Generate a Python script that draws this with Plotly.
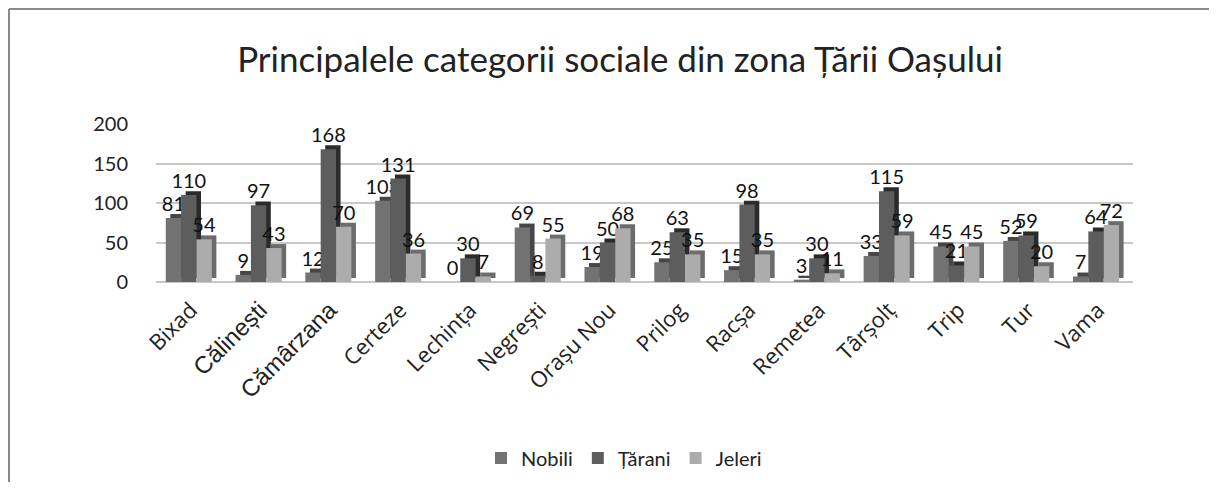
import plotly.graph_objects as go

categories = ["Bixad", "Călinești", "Cămârzana", "Certeze", "Lechința", "Negrești",
              "Orașu Nou", "Prilog", "Racșa", "Remetea", "Târșolț", "Trip", "Tur", "Vama"]
nobili = [81, 9, 12, 103, 0, 69, 19, 25, 15, 3, 33, 45, 52, 7]
tarani = [110, 97, 168, 131, 30, 8, 50, 63, 98, 30, 115, 21, 59, 64]
jeleri = [54, 43, 70, 36, 7, 55, 68, 35, 35, 11, 59, 45, 20, 72]
tick_vals = [0, 50, 100, 150, 200]
# labels that the original shows in a wider fallback font
fallback_labels = {"Călinești", "Cămârzana"}

series = [
    ("Nobili", nobili, "#727272", "#464646"),
    ("Țărani", tarani, "#5d5d5d", "#2b2b2b"),
    ("Jeleri", jeleri, "#acacac", "#6c6c6c"),
]

FONT = "Lato"
W, H = 1201, 474
L, T, PW, PH = 148, 116, 977, 158
bw = 0.22
depth_x = 0.065
depth_y = 5
offsets = [-0.36, -0.14, 0.08]

tick_text = [
    (f'<span style="font-family:Liberation Sans;font-size:24px">{c}</span>'
     if c in fallback_labels else c)
    for c in categories
]

fig = go.Figure()
for (name, vals, face, side), off in zip(series, offsets):
    fig.add_trace(go.Bar(
        x=categories, y=vals, base=depth_y, offset=off + depth_x, width=bw,
        marker=dict(color=side, line=dict(width=0)), showlegend=False,
        hoverinfo="skip"))
    fig.add_trace(go.Bar(
        x=categories, y=vals, name=name, offset=off, width=bw,
        marker=dict(color=face, line=dict(width=0)),
        text=[str(v) for v in vals], textposition="outside",
        constraintext="none",
        textfont=dict(family=FONT, size=20, color="#111111"),
        cliponaxis=False))

fig.update_layout(
    width=W, height=H,
    barmode="overlay",
    paper_bgcolor="white", plot_bgcolor="white",
    margin=dict(l=L, r=W - L - PW, t=T, b=H - T - PH, autoexpand=False),
    font=dict(family=FONT, color="#111111"),
    title=dict(text="Principalele categorii sociale din zona Țării Oașului",
               x=612 / W, xref="container", xanchor="center",
               y=1 - 52 / H, yref="container", yanchor="middle",
               font=dict(family=FONT, size=35, color="#222222")),
    xaxis=dict(tickangle=-45, tickfont=dict(family="Open Sans", size=22, color="#222222"),
               tickmode="array", tickvals=categories, ticktext=tick_text,
               ticklabelstandoff=10,
               showgrid=False, showline=False, ticks="", range=[-0.5, 13.5],
               automargin=False),
    yaxis=dict(range=[0, 200], tickvals=tick_vals, showgrid=True,
               gridcolor="#c8c8c8", gridwidth=2, zeroline=True,
               zerolinecolor="#c8c8c8", zerolinewidth=2,
               tickfont=dict(family=FONT, size=20, color="#222222"),
               ticks="", ticklabelstandoff=27, automargin=False),
    legend=dict(orientation="h", x=616 / W, xref="container", xanchor="center",
                y=1 - 450 / H, yref="container", yanchor="middle",
                font=dict(family=FONT, size=20, color="#222222"),
                itemwidth=30, traceorder="normal"),
)

# chart frame (top and left border)
top_y = 1 + (T - 1) / PH
left_x = (1 - L) / PW
fig.add_shape(type="line", xref="paper", yref="paper",
              x0=left_x, x1=1.2, y0=top_y, y1=top_y,
              line=dict(color="#8a8a8a", width=2))
fig.add_shape(type="line", xref="paper", yref="paper",
              x0=left_x, x1=left_x, y0=top_y, y1=-2,
              line=dict(color="#8a8a8a", width=2))

fig.write_html("out.html")
